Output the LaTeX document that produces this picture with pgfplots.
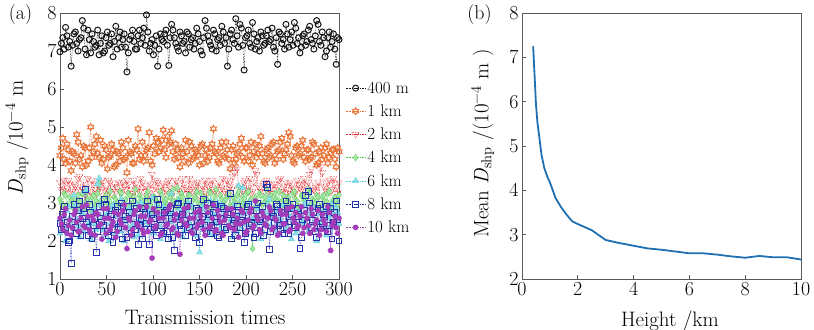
\documentclass[border=0pt]{standalone}
\usepackage{pgfplots}
\usepackage{pgfplotstable}
\pgfplotsset{compat=1.18}
\definecolor{cA}{RGB}{20,20,20}
\definecolor{cB}{RGB}{232,115,55}
\definecolor{cC}{RGB}{228,35,40}
\definecolor{cD}{RGB}{60,195,60}
\definecolor{cE}{RGB}{60,200,212}
\definecolor{cF}{RGB}{35,50,170}
\definecolor{cG}{RGB}{165,60,185}
\definecolor{lineblue}{RGB}{31,112,178}
\pgfdeclareplotmark{hexagram}{%
  \pgfpathmoveto{\pgfqpointpolar{90}{\pgfplotmarksize}}%
  \pgfpathlineto{\pgfqpointpolar{120}{0.577\pgfplotmarksize}}%
  \pgfpathlineto{\pgfqpointpolar{150}{\pgfplotmarksize}}%
  \pgfpathlineto{\pgfqpointpolar{180}{0.577\pgfplotmarksize}}%
  \pgfpathlineto{\pgfqpointpolar{210}{\pgfplotmarksize}}%
  \pgfpathlineto{\pgfqpointpolar{240}{0.577\pgfplotmarksize}}%
  \pgfpathlineto{\pgfqpointpolar{270}{\pgfplotmarksize}}%
  \pgfpathlineto{\pgfqpointpolar{300}{0.577\pgfplotmarksize}}%
  \pgfpathlineto{\pgfqpointpolar{330}{\pgfplotmarksize}}%
  \pgfpathlineto{\pgfqpointpolar{0}{0.577\pgfplotmarksize}}%
  \pgfpathlineto{\pgfqpointpolar{30}{\pgfplotmarksize}}%
  \pgfpathlineto{\pgfqpointpolar{60}{0.577\pgfplotmarksize}}%
  \pgfpathclose\pgfusepathqstroke}

\pgfplotstableread{
x a b c d e f g
0 6.98 4.25 3.55 3.10 2.20 2.45 2.60
1.5 7.20 4.45 3.35 3.00 2.55 2.30 2.45
3 7.35 4.70 3.45 2.95 2.65 2.70 2.30
4.5 7.05 4.15 3.60 3.25 2.35 2.90 2.70
6 7.62 4.05 3.30 3.20 2.00 2.35 2.85
7.5 7.40 4.55 3.40 2.95 2.80 2.50 2.20
9 7.10 4.40 3.60 2.90 2.90 1.95 2.40
10.5 7.25 4.10 3.50 3.15 2.60 2.00 2.55
12 6.60 3.85 3.25 3.05 2.45 1.40 2.15
13.5 7.15 4.35 3.30 2.90 2.15 2.65 2.35
15 7.45 4.30 3.50 3.15 3.20 2.95 2.70
16.5 7.50 4.05 3.45 3.10 2.95 2.35 2.80
18 7.20 4.80 3.35 2.85 2.55 2.20 2.50
19.5 7.00 4.60 3.65 3.20 2.40 2.80 2.25
21 7.30 4.15 3.70 3.00 2.10 3.05 2.25
22.5 7.35 4.25 3.30 3.05 2.80 2.15 2.60
24 7.80 3.95 3.40 3.25 2.75 2.60 2.90
25.5 7.60 4.50 3.55 2.85 2.25 2.85 2.40
27 7.05 4.45 3.20 2.95 3.30 3.35 2.35
28.5 6.90 4.00 3.40 3.30 3.35 2.50 2.95
30 7.55 4.10 3.65 3.10 2.40 2.15 2.65
31.5 7.30 4.45 3.20 3.00 2.50 2.95 2.30
33 6.95 5.00 3.30 2.80 2.05 2.75 2.20
34.5 7.45 4.20 3.60 3.15 2.70 2.05 2.65
36 7.25 4.35 3.50 3.20 2.85 2.40 2.55
37.5 7.10 4.55 3.35 2.95 2.45 2.60 2.15
39 7.15 4.75 3.25 3.05 2.30 1.70 2.75
40.5 7.55 4.30 3.50 3.25 3.50 2.25 2.70
42 6.90 4.20 3.45 3.50 3.65 2.90 2.40
43.5 7.20 4.65 3.30 3.05 2.95 2.75 2.45
45 7.40 4.05 3.60 2.90 2.60 2.50 2.05
46.5 6.95 4.15 3.55 2.90 2.30 2.40 2.85
48 7.00 4.50 3.35 3.15 2.15 3.10 2.60
49.5 7.35 4.40 3.40 3.20 2.65 2.95 2.20
51 7.50 3.90 3.20 3.00 2.75 2.25 2.85
52.5 7.15 4.20 3.60 3.10 2.00 2.15 2.60
54 7.20 4.25 3.55 3.30 2.45 2.65 2.30
55.5 7.45 4.55 3.25 2.95 2.85 2.70 2.40
57 6.85 4.40 3.40 2.85 2.95 1.95 2.50
58.5 7.25 3.95 3.50 3.15 2.40 2.30 2.75
60 7.65 4.00 3.30 3.10 2.20 2.80 2.10
61.5 7.05 4.35 3.40 3.00 2.70 2.90 2.25
63 7.35 4.30 3.55 2.95 2.65 2.35 2.70
64.5 7.50 4.10 3.30 3.30 2.25 2.45 2.55
66 7.10 4.60 3.25 3.25 3.10 3.00 2.45
67.5 7.30 4.45 3.55 2.90 2.90 2.05 2.80
69 7.45 4.15 3.45 3.05 2.00 2.55 2.95
70.5 7.10 4.20 3.35 3.10 2.60 2.65 2.35
72 6.45 3.80 3.60 2.90 2.55 2.10 1.80
73.5 6.95 4.65 3.50 3.25 2.35 2.90 2.60
75 7.30 4.35 3.35 3.20 2.85 2.75 2.55
76.5 7.40 4.30 3.25 2.95 2.75 2.20 2.15
78 7.55 4.05 3.20 3.00 2.40 3.05 2.30
79.5 7.25 4.05 3.60 3.15 2.10 2.60 2.70
81 7.05 4.50 3.50 3.35 2.70 2.30 2.80
82.5 7.05 4.40 3.40 3.00 2.95 2.85 2.45
84 7.40 4.95 3.40 2.85 2.15 1.90 2.40
85.5 7.55 4.15 3.30 3.20 2.50 2.40 2.90
87 7.20 4.25 3.65 3.10 3.00 2.60 2.65
88.5 7.35 4.60 3.55 2.90 2.30 2.05 2.30
90 7.60 4.10 3.30 2.95 2.50 2.85 2.20
91.5 7.15 4.25 3.45 3.10 2.85 2.75 2.65
93 7.95 4.40 3.45 3.20 2.25 2.45 2.90
94.5 7.50 4.45 3.20 3.30 2.45 3.05 2.25
96 7.00 4.85 3.25 3.05 2.80 1.90 2.50
97.5 7.20 4.10 3.50 2.95 2.65 2.30 2.55
99 7.30 4.00 3.75 2.80 3.15 2.70 1.55
100.5 6.90 4.50 3.35 3.15 2.20 2.60 2.85
102 7.15 4.30 3.40 3.15 2.35 2.35 2.35
103.5 7.40 4.70 3.60 3.05 2.95 2.15 2.40
105 6.60 4.60 3.55 3.00 2.65 3.10 2.75
106.5 7.05 4.35 3.30 2.85 2.40 2.95 2.60
108 7.45 4.45 3.30 3.30 2.05 2.55 2.15
109.5 7.30 4.65 3.45 3.20 2.70 2.40 2.20
111 7.25 4.92 3.50 2.90 2.90 2.20 2.60
112.5 7.45 4.40 3.25 3.05 2.15 2.75 2.75
114 7.55 4.20 3.35 3.10 2.45 2.80 2.40
115.5 7.15 4.75 3.55 2.95 2.85 2.25 2.45
117 6.62 4.55 3.60 3.25 2.70 2.05 2.85
118.5 7.35 4.60 3.40 3.15 2.50 2.85 2.95
120 7.70 4.90 3.20 2.95 3.25 2.60 2.30
121.5 7.55 4.35 3.30 3.35 2.75 2.10 2.35
123 7.35 4.15 3.45 3.05 2.20 1.75 2.55
124.5 7.20 4.55 3.60 2.90 2.35 2.65 2.70
126 7.10 4.40 3.55 3.40 2.55 2.95 2.20
127.5 7.00 4.20 3.40 3.10 3.05 3.00 2.15
129 7.50 3.95 3.30 2.85 2.85 2.40 1.65
130.5 7.40 4.45 3.25 3.25 2.60 2.30 2.55
132 7.20 4.30 3.65 3.15 2.10 2.70 2.70
133.5 7.25 4.10 3.50 2.95 2.25 2.55 2.85
135 6.95 4.65 3.40 3.00 2.65 2.15 2.45
136.5 7.50 4.35 3.35 3.05 2.80 2.90 2.40
138 7.45 4.05 3.25 3.20 3.00 3.05 2.90
139.5 7.10 4.60 3.65 3.20 2.45 2.35 2.60
141 7.30 4.50 3.50 2.90 2.35 2.50 2.25
142.5 7.35 4.15 3.30 2.90 2.90 2.65 2.20
144 7.05 4.20 3.35 3.10 2.75 2.25 2.60
145.5 7.20 4.40 3.45 3.15 2.15 2.10 2.75
147 7.60 4.35 3.55 3.30 2.50 2.85 2.35
148.5 7.45 4.25 3.55 3.00 2.70 2.80 2.45
150 7.25 4.00 3.20 2.95 1.70 1.95 2.80
151.5 7.00 4.50 3.35 3.25 2.40 2.45 2.65
153 6.90 4.55 3.45 3.05 2.90 2.65 2.50
154.5 7.35 4.05 3.20 2.95 2.85 3.10 2.30
156 7.80 4.25 3.60 3.15 2.30 2.40 2.15
157.5 7.60 4.40 3.50 3.10 2.55 2.25 2.90
159 7.40 4.10 3.30 2.85 2.60 3.00 2.75
160.5 7.25 4.20 3.40 3.30 2.20 2.70 2.35
162 7.15 4.45 3.50 3.25 3.05 2.20 2.40
163.5 7.05 4.55 3.60 2.90 2.75 2.40 2.60
165 7.55 4.95 3.35 3.00 2.15 2.75 2.95
166.5 7.45 4.35 3.30 3.15 2.45 2.95 2.25
168 7.00 4.30 3.25 3.35 2.70 2.50 2.30
169.5 7.30 4.10 3.45 3.00 3.00 2.15 2.80
171 7.35 4.05 3.55 2.90 2.45 2.10 2.65
172.5 7.15 4.45 3.35 3.20 2.30 2.60 2.50
174 7.65 4.60 3.40 3.10 2.95 2.90 2.20
175.5 7.50 4.25 3.65 2.95 2.65 2.85 2.15
177 7.20 4.20 3.30 3.05 2.25 2.35 2.55
178.5 7.35 4.60 3.25 3.10 2.85 2.30 2.70
180 6.60 4.40 3.60 3.20 2.80 2.70 2.85
181.5 7.05 4.15 3.50 3.25 2.40 2.75 2.40
183 7.45 3.90 3.45 2.95 2.50 3.25 2.35
184.5 7.55 4.40 3.35 2.90 2.60 2.05 2.85
186 7.30 4.50 3.70 3.15 2.10 2.45 2.70
187.5 7.20 4.05 3.80 3.05 2.95 2.55 2.30
189 7.85 4.15 3.95 3.00 2.65 2.15 2.45
190.5 7.40 4.30 3.90 3.20 2.25 2.90 2.60
192 7.10 4.35 3.40 3.30 3.45 2.80 2.10
193.5 7.70 4.55 3.45 3.00 2.70 2.35 2.45
195 7.60 4.70 3.25 2.90 2.35 2.55 2.80
196.5 7.15 4.20 3.30 3.15 3.40 2.65 2.75
198 6.50 4.10 3.55 3.10 2.75 1.95 2.50
199.5 7.35 4.45 3.60 2.95 2.45 2.20 2.20
201 7.40 4.45 3.35 3.25 2.20 2.90 2.25
202.5 7.55 4.10 3.40 3.30 2.80 2.95 2.55
204 7.20 4.25 3.65 3.05 3.00 2.40 2.75
205.5 7.10 4.60 3.25 3.10 2.35 2.45 2.85
207 7.75 4.00 3.30 1.80 2.55 2.65 2.35
208.5 7.45 4.35 3.55 2.85 2.60 2.10 2.40
210 7.05 4.55 3.85 3.15 2.40 2.20 3.05
211.5 7.25 4.20 3.75 3.05 2.90 2.80 2.65
213 7.35 4.30 3.45 2.95 2.85 3.00 2.55
214.5 7.00 4.50 3.40 3.25 2.50 2.55 2.30
216 7.50 4.75 3.30 3.20 2.05 2.50 2.20
217.5 7.40 4.30 3.30 2.95 2.20 2.90 2.75
219 7.15 4.10 3.50 3.00 2.70 2.15 2.65
220.5 7.20 4.05 3.55 3.15 2.75 2.30 2.45
222 7.40 4.40 3.60 3.35 2.45 3.48 2.40
223.5 7.55 4.45 3.45 3.00 2.95 3.40 2.60
225 7.25 4.20 3.35 2.90 3.10 1.78 2.90
226.5 7.30 4.25 3.25 3.20 2.40 2.25 2.80
228 7.60 4.55 3.25 3.10 2.30 2.75 2.30
229.5 7.10 4.60 3.50 2.90 2.65 2.65 2.35
231 7.00 4.05 3.50 3.25 2.80 2.45 2.60
232.5 7.35 4.15 3.35 3.10 2.25 2.95 2.55
234 6.65 4.35 3.40 3.05 2.55 2.90 2.15
235.5 7.50 4.40 3.60 3.30 2.85 2.40 2.20
237 7.45 4.60 3.65 2.85 2.15 2.30 2.80
238.5 7.20 4.70 3.30 3.05 2.50 2.75 2.70
240 7.30 4.15 3.30 3.20 2.95 2.60 2.45
241.5 7.05 4.30 3.45 2.95 2.70 2.20 2.45
243 7.70 4.40 3.55 3.00 2.40 3.05 2.70
244.5 7.45 4.55 3.25 3.15 2.35 2.85 2.85
246 7.10 4.85 3.35 3.15 2.65 2.20 2.25
247.5 7.30 4.75 3.55 3.00 2.90 2.50 2.30
249 7.50 4.25 3.45 2.95 2.05 2.70 2.90
250.5 7.15 4.10 3.40 3.25 2.55 2.95 2.60
252 7.75 4.05 3.25 3.30 2.85 2.40 2.50
253.5 7.60 4.45 3.30 3.10 2.20 2.35 2.75
255 7.20 4.50 3.60 3.05 2.30 2.85 2.35
256.5 7.35 4.25 3.50 2.90 2.75 2.65 2.40
258 6.95 4.30 3.40 2.90 2.70 1.80 2.65
259.5 7.10 4.50 3.35 3.20 2.45 2.10 2.90
261 7.40 4.65 3.50 3.20 2.50 2.55 2.20
262.5 7.45 4.20 3.65 3.05 2.95 2.80 2.35
264 7.15 4.10 3.30 3.10 3.00 3.20 2.75
265.5 7.25 4.40 3.45 2.95 2.35 2.45 2.60
267 7.55 4.40 3.55 3.35 2.25 3.30 2.40
268.5 7.65 4.15 3.75 3.25 2.65 3.00 2.20
270 7.30 4.20 3.90 2.95 2.80 2.35 2.85
271.5 7.20 4.60 3.40 3.10 2.90 2.55 2.70
273 7.05 4.55 3.35 3.05 2.45 2.75 2.30
274.5 7.40 4.30 3.30 3.00 2.30 2.25 2.45
276 7.80 4.00 3.45 3.20 2.00 2.10 2.55
277.5 7.70 4.05 3.55 3.15 2.70 2.85 2.80
279 7.25 4.35 3.20 2.90 2.75 2.95 2.15
280.5 7.15 4.45 3.95 2.90 2.50 2.35 2.30
282 7.50 4.15 3.80 3.15 2.55 2.45 2.70
283.5 7.35 4.25 3.45 3.20 2.80 2.70 2.55
285 6.85 4.45 3.40 3.00 2.30 2.65 2.45
286.5 7.00 4.55 3.30 3.05 2.15 2.90 2.25
288 7.35 4.05 3.55 3.25 2.90 2.25 2.90
289.5 7.50 4.20 3.60 3.30 2.60 2.40 2.75
291 7.10 4.30 3.30 2.90 2.40 2.85 1.75
292.5 7.25 4.40 3.35 3.00 2.95 2.05 2.40
294 7.45 4.40 3.65 3.10 2.70 2.50 2.50
295.5 7.05 4.15 3.50 3.15 2.35 2.75 2.65
297 6.65 3.95 3.40 3.05 2.85 3.05 2.35
298.5 7.35 4.45 3.25 2.95 2.75 2.55 2.20
300 7.30 4.35 3.55 3.20 2.45 2.00 2.60
}\dataA

\pgfplotstableread{
h m
0.4 7.25
0.45 6.60
0.5 5.95
0.55 5.55
0.6 5.30
0.7 4.80
0.8 4.50
0.9 4.32
1.0 4.18
1.2 3.83
1.4 3.62
1.6 3.45
1.8 3.30
2.0 3.24
2.5 3.10
3.0 2.88
3.5 2.81
4.0 2.75
4.5 2.69
5.0 2.66
5.5 2.62
6.0 2.58
6.5 2.58
7.0 2.55
7.5 2.51
8.0 2.48
8.5 2.52
9.0 2.49
9.5 2.49
10.0 2.44
}\dataB

\pgfplotsset{
  panel/.style={
    scale only axis, width=279bp, height=266bp,
    axis line style={draw=black!65, line width=0.7bp},
    tick style={draw=black!65, line width=0.7bp},
    tick align=inside, xtick pos=lower, ytick pos=left,
    major tick length=4bp,
    /pgf/number format/assume math mode=true,
    tick label style={font=\fontsize{20}{22}\selectfont},
    label style={font=\fontsize{21}{23}\selectfont},
  },
  ser/.style={densely dotted, line width=0.6bp, color=#1, mark options={solid, line width=1.0bp}},
}

\begin{document}
\begin{tikzpicture}
\path[use as bounding box] (0bp,0bp) rectangle (814bp,330bp);
\begin{axis}[panel, at={(60bp,51bp)}, anchor=south west,
  xmin=0, xmax=300, ymin=1, ymax=8,
  xtick={0,50,...,300}, ytick={1,2,...,8},
  xlabel={Transmission times},
  ylabel={\textit{D}\textsubscript{shp} /10\textsuperscript{−4} m},
  xlabel style={at={(axis description cs:0.52,-0.105)}, anchor=north},
  ylabel style={at={(axis description cs:-0.10,0.53)}, anchor=south},
  legend cell align=left,
  legend image code/.code={\draw[mark repeat=2,mark phase=2,#1] plot coordinates {(0bp,0bp) (10bp,0bp) (20bp,0bp)};},
  legend style={at={(1.022,0.748)}, anchor=north west, draw=none, fill=none,
    font=\fontsize{17}{19}\selectfont, row sep=7bp, inner sep=0bp,
    nodes={inner sep=1.5bp}},
]
\addplot[ser=cA, mark=o, mark size=3.0bp] table[x=x,y=a]{\dataA};
\addlegendentry{400 m}
\addplot[ser=cB, mark=hexagram, mark size=3.4bp] table[x=x,y=b]{\dataA};
\addlegendentry{1 km}
\addplot[ser=cC, mark=triangle, mark size=3.9bp, mark options={rotate=180}] table[x=x,y=c]{\dataA};
\addlegendentry{2 km}
\addplot[ser=cD, mark=diamond*, mark size=3.4bp, mark options={fill=cD!45}] table[x=x,y=d]{\dataA};
\addlegendentry{4 km}
\addplot[ser=cE, mark=triangle*, mark size=3.6bp, mark options={fill=cE!60}] table[x=x,y=e]{\dataA};
\addlegendentry{6 km}
\addplot[ser=cF, mark=square, mark size=2.9bp] table[x=x,y=f]{\dataA};
\addlegendentry{8 km}
\addplot[ser=cG, mark=*, mark size=2.7bp, mark options={fill=cG}] table[x=x,y=g]{\dataA};
\addlegendentry{10 km}
\end{axis}
\node[font=\fontsize{20}{22}\selectfont, anchor=center] at (20.5bp,315bp) {(a)};

\begin{axis}[panel, at={(522bp,51bp)}, anchor=south west,
  xmin=0, xmax=10, ymin=2, ymax=8,
  xtick={0,2,...,10}, ytick={2,3,...,8},
  xlabel={Height /km},
  ylabel={Mean \textit{D}\textsubscript{shp} /(10\textsuperscript{−4} m )},
  xlabel style={at={(axis description cs:0.53,-0.105)}, anchor=north},
  ylabel style={at={(axis description cs:-0.087,0.51)}, anchor=south},
]
\addplot[color=lineblue, line width=1.8bp, no marks] table[x=h,y=m]{\dataB};
\end{axis}
\node[font=\fontsize{20}{22}\selectfont, anchor=center] at (479.5bp,315bp) {(b)};
\end{tikzpicture}
\end{document}
